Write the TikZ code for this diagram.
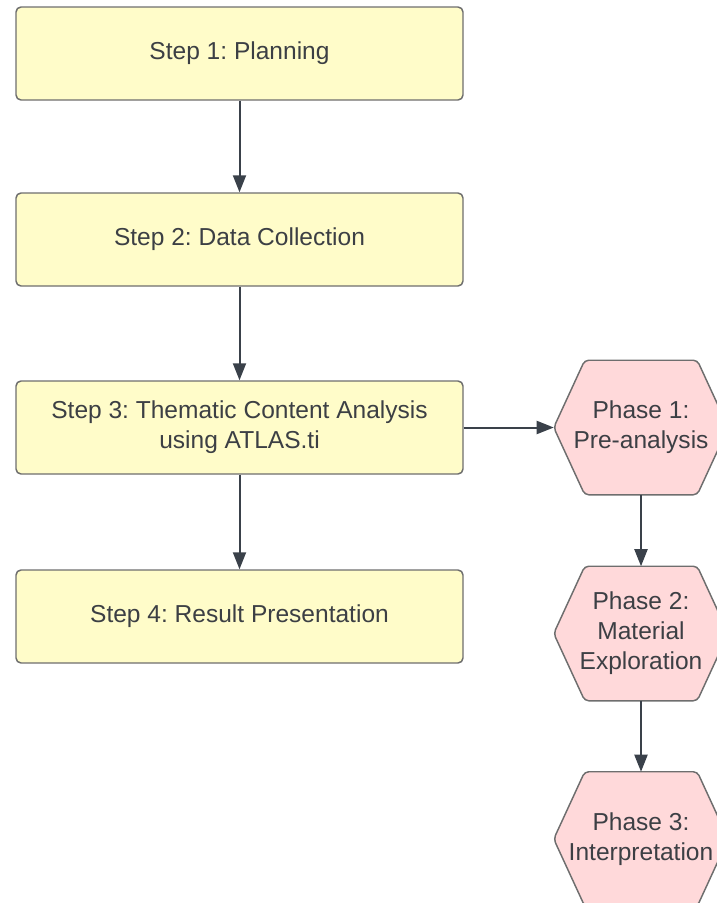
\documentclass[tikz,border=0pt]{standalone}
\usepackage{fontspec}
\setmainfont{Liberation Sans}
\usetikzlibrary{arrows.meta}
\pgfdeclarelayer{background}
\pgfsetlayers{background,main}
\frenchspacing

\definecolor{stepfill}{HTML}{FFFCC9}
\definecolor{phasefill}{HTML}{FFD9DA}
\definecolor{edgegray}{HTML}{6E6E6E}
\definecolor{inkdark}{HTML}{3A414A}
\definecolor{textdark}{HTML}{3C3F44}

\tikzset{
  labeltext/.style={font=\fontsize{18.4}{22.5}\selectfont, text=textdark, align=center, inner sep=0pt},
  stepbox/.style={labeltext, draw=edgegray, fill=stepfill, line width=1.1pt,
    rounded corners=3.75pt, minimum width=335.25pt, minimum height=69.75pt},
  phasebox/.style={labeltext, minimum width=130.5pt, minimum height=100.5pt},
  hexline/.style={draw=edgegray, fill=phasefill, line width=1.1pt, rounded corners=3pt},
  flow/.style={draw=inkdark, line width=1.5pt,
    -{Triangle[length=12.75pt, width=9.75pt]}},
}

% flat-topped hexagon around a phase node, drawn behind its text
\newcommand\phasehex[1]{%
  \begin{pgfonlayer}{background}
    \draw[hexline] (#1.west) -- ([xshift=23.25pt]#1.north west)
      -- ([xshift=-23.25pt]#1.north east) -- (#1.east)
      -- ([xshift=-23.25pt]#1.south east) -- ([xshift=23.25pt]#1.south west)
      -- cycle;
  \end{pgfonlayer}}

\begin{document}
\begin{tikzpicture}[x=0.75pt, y=-0.75pt]
  \useasboundingbox (0,0) rectangle (717,903);
  \clip (0,0) rectangle (717,903);

  \node[stepbox] (s1) at (239.5, 53.5)  {Step 1: Planning};
  \node[stepbox] (s2) at (239.5, 239.5) {Step 2: Data Collection};
  \node[stepbox] (s3) at (239.5, 427.5) {Step 3: Thematic Content Analysis\\using ATLAS.ti};
  \node[stepbox] (s4) at (239.5, 616.5) {Step 4: Result Presentation};

  \node[phasebox] (p1) at (641, 427.5) {Phase 1:\\Pre-analysis};
  \node[phasebox] (p2) at (641, 633.5) {Phase 2:\\Material\\Exploration};
  \node[phasebox] (p3) at (641, 839)   {Phase 3:\\Interpretation};
  \phasehex{p1}
  \phasehex{p2}
  \phasehex{p3}

  \draw[flow] (s1) -- (s2);
  \draw[flow] (s2) -- (s3);
  \draw[flow] (s3) -- (s4);
  \draw[flow] (s3.east) -- (p1.west);
  \draw[flow] (p1.south) -- (p2.north);
  \draw[flow] (p2.south) -- (p3.north);
\end{tikzpicture}
\end{document}
